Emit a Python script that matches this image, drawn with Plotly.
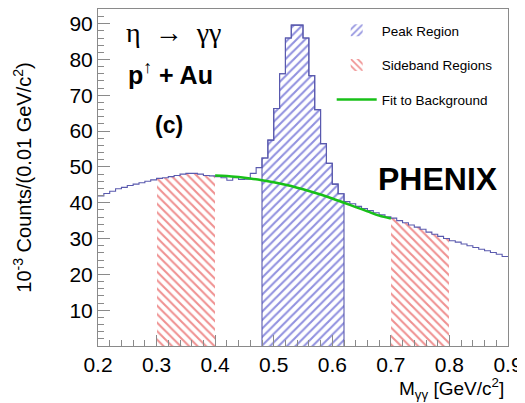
import plotly.graph_objects as go

# ---- data (10^3 counts per 0.01 GeV/c^2 bin) ----
bin_lo = [round(0.20 + 0.01 * i, 2) for i in range(70)]
counts = [
    41.9, 42.6, 43.2, 43.9, 44.3, 44.8, 45.2, 45.6, 46.0, 46.4,   # 0.20-0.29
    46.8, 47.0, 47.3, 47.6, 48.0, 48.2, 48.2, 48.0, 47.6, 47.5,   # 0.30-0.39
    47.3, 47.0, 46.3, 47.0, 46.5, 46.6, 48.2, 49.8, 52.5, 57.5,   # 0.40-0.49
    66.3, 76.0, 86.0, 89.6, 89.6, 86.0, 75.5, 66.0, 56.5, 51.0,   # 0.50-0.59
    45.2, 42.5, 40.3, 39.7, 39.0, 38.4, 37.8, 37.2, 36.6, 36.1,   # 0.60-0.69
    35.7, 35.0, 34.4, 33.8, 33.2, 32.6, 31.8, 31.2, 30.6, 30.0,   # 0.70-0.79
    29.4, 29.0, 28.5, 28.0, 27.5, 27.0, 26.6, 26.1, 25.6, 25.0,   # 0.80-0.89
]
peak_range = (0.48, 0.62)
sideband_ranges = [(0.30, 0.40), (0.70, 0.80)]

fit_x = [0.40, 0.42, 0.44, 0.46, 0.48, 0.50, 0.52, 0.54, 0.56, 0.58,
         0.60, 0.62, 0.64, 0.66, 0.68, 0.70]
fit_y = [47.6, 47.5, 47.2, 46.8, 46.3, 45.7, 45.0, 44.2, 43.3, 42.3,
         41.2, 40.0, 38.8, 37.6, 36.4, 35.6]

x_ticks = [0.2, 0.3, 0.4, 0.5, 0.6, 0.7, 0.8, 0.9]
y_ticks = [10, 20, 30, 40, 50, 60, 70, 80, 90]

BW = 0.01
centers = [round(b + BW / 2, 3) for b in bin_lo]


def in_range(b, r):
    return r[0] - 1e-9 <= b < r[1] - 1e-9


peak_x = [c for b, c in zip(bin_lo, centers) if in_range(b, peak_range)]
peak_y = [v for b, v in zip(bin_lo, counts) if in_range(b, peak_range)]
side_x = [c for b, c in zip(bin_lo, centers) if any(in_range(b, r) for r in sideband_ranges)]
side_y = [v for b, v in zip(bin_lo, counts) if any(in_range(b, r) for r in sideband_ranges)]

HIST = "#5a5aae"
BLUE = "#2424c0"
RED = "#e02424"
GREEN = "#18c018"

fig = go.Figure()

fig.add_trace(go.Bar(
    x=peak_x, y=peak_y, width=BW, name="Peak Region",
    legendgroup="a",
    marker=dict(color=BLUE, line=dict(width=0),
                pattern=dict(shape="/", fgcolor=BLUE, bgcolor="white",
                             size=6, solidity=0.35)),
))
fig.add_trace(go.Bar(
    x=side_x, y=side_y, width=BW, name="Sideband Regions",
    legendgroup="b",
    marker=dict(color=RED, line=dict(width=0),
                pattern=dict(shape="\\", fgcolor=RED, bgcolor="white",
                             size=6, solidity=0.35)),
))

# histogram outline (step)
edges = bin_lo + [round(bin_lo[-1] + BW, 2)]
fig.add_trace(go.Scatter(
    x=edges, y=counts + [counts[-1]], mode="lines", line_shape="hv",
    line=dict(color=HIST, width=1.1), showlegend=False, hoverinfo="skip",
))
# peak-region outline
pk_edges = [b for b in bin_lo if in_range(b, peak_range)]
fig.add_trace(go.Scatter(
    x=[pk_edges[0]] + pk_edges + [peak_range[1]],
    y=[0] + peak_y + [0], mode="lines", line_shape="hv",
    line=dict(color=HIST, width=1.1), showlegend=False, hoverinfo="skip",
))

fig.add_trace(go.Scatter(
    x=fit_x, y=fit_y, mode="lines", line_shape="spline",
    line=dict(color=GREEN, width=2.5), name="Fit to Background",
    legendgroup="c",
))

axis_common = dict(
    showgrid=False, zeroline=False, showline=True, linecolor="#8a8a8a",
    linewidth=1, mirror=True, ticks="inside", tickcolor="#8a8a8a",
    automargin=False,
    tickfont=dict(family="Liberation Sans", size=21, color="black"),
)

fig.update_layout(
    width=517, height=395,
    margin=dict(l=90, r=17, t=1, b=57, autoexpand=False),
    paper_bgcolor="white", plot_bgcolor="white",
    barmode="overlay", bargap=0,
    showlegend=True,
    legend=dict(x=0.570, y=0.982, xanchor="left", yanchor="top",
                bgcolor="rgba(0,0,0,0)", borderwidth=0,
                font=dict(family="Liberation Sans", size=13.5, color="black"),
                tracegroupgap=14, itemwidth=40, traceorder="grouped"),
    xaxis=dict(range=[0.2, 0.9], tickvals=x_ticks,
               ticktext=[f"{v:.1f}" for v in x_ticks], ticklen=11,
               minor=dict(dtick=0.02, ticklen=6, ticks="inside", tickcolor="#8a8a8a"),
               **axis_common),
    yaxis=dict(range=[0, 94.1], tickvals=y_ticks, ticklen=12,
               minor=dict(dtick=2, ticklen=6, ticks="inside", tickcolor="#8a8a8a"),
               **axis_common),
)

ann_font = dict(family="Liberation Sans", color="black")
fig.add_annotation(xref="paper", yref="paper", x=-0.185, y=0.5, textangle=-90,
                   text="10<sup>-3</sup> Counts/(0.01 GeV/c<sup>2</sup>)",
                   showarrow=False, font=dict(size=20, **ann_font),
                   xanchor="center", yanchor="middle")
fig.add_annotation(xref="paper", yref="paper", x=0.995, y=-0.127,
                   text="M<sub>γγ</sub> [GeV/c<sup>2</sup>]",
                   showarrow=False, font=dict(size=19, **ann_font),
                   xanchor="right", yanchor="middle")

fig.add_annotation(xref="paper", yref="paper", x=0.185, y=0.93,
                   text="η  →  γγ", showarrow=False,
                   font=dict(family="Liberation Serif", size=28, color="black"),
                   xanchor="center", yanchor="middle")
fig.add_annotation(xref="paper", yref="paper", x=0.176, y=0.81,
                   text="<b>p<sup>↑</sup> + Au</b>", showarrow=False,
                   font=dict(size=25, **ann_font),
                   xanchor="center", yanchor="middle")
fig.add_annotation(xref="paper", yref="paper", x=0.172, y=0.655,
                   text="<b>(c)</b>", showarrow=False,
                   font=dict(size=23, **ann_font),
                   xanchor="center", yanchor="middle")
fig.add_annotation(xref="paper", yref="paper", x=0.830, y=0.495,
                   text="<b>PHENIX</b>", showarrow=False,
                   font=dict(size=32, **ann_font),
                   xanchor="center", yanchor="middle")

fig.write_html("out.html")
